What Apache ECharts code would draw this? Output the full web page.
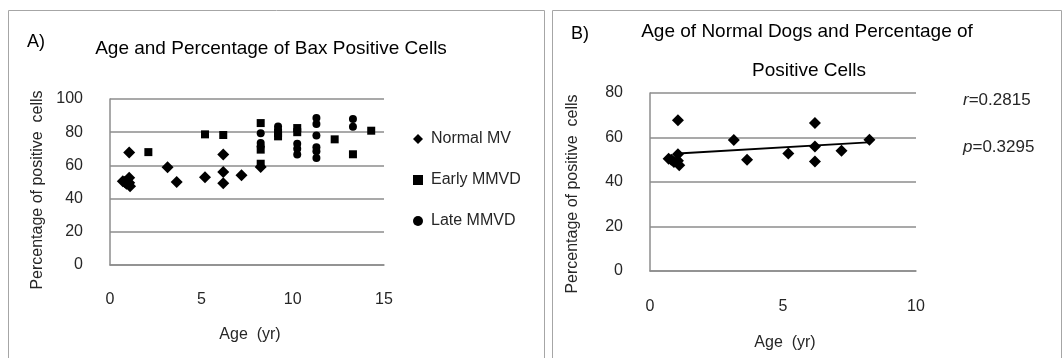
<!DOCTYPE html>
<html>
<head>
<meta charset="utf-8">
<script src="https://cdn.jsdelivr.net/npm/echarts@6/dist/echarts.min.js"></script>
<style>html,body{margin:0;padding:0;background:#fff;}#c{width:1063px;height:358px;}</style>
</head>
<body>
<div id="c"></div>
<script>
// ---- Data ----
var normalAge = [0.7, 0.8, 0.9, 1.05, 1.05, 1.1, 1.05, 3.15, 3.65, 5.2, 6.2, 6.2, 6.2, 7.2, 8.25];
var normalPct = [50.5, 50, 49, 52.5, 49.5, 47.5, 67.8, 58.9, 50, 52.8, 66.5, 56, 49.2, 54.1, 59];

var earlyAge = [2.1, 5.2, 6.2, 8.25, 8.25, 8.25, 9.2, 9.2, 10.25, 10.25, 12.3, 13.3, 14.3];
var earlyPct = [68, 78.7, 78.3, 85.5, 69.5, 61, 79.5, 77.5, 82.5, 80, 75.7, 66.7, 80.9];

var lateAge = [8.25, 8.25, 8.25, 9.2, 9.2, 10.25, 10.25, 10.25, 11.3, 11.3, 11.3, 11.3, 11.3, 11.3, 13.3, 13.3];
var latePct = [79.3, 73.5, 71.5, 83.5, 81.5, 73, 70, 66.5, 88.5, 85, 78, 71, 68.5, 64.5, 88, 83.3];

var trendAge = [1.05, 8.2];
var trendPct = [52.8, 57.8];

var xTicksA = [0, 5, 10, 15];
var yTicksA = [0, 20, 40, 60, 80, 100];
var xTicksB = [0, 5, 10];
var yTicksB = [0, 20, 40, 60, 80];

function pairs(a, b) { return a.map(function (v, i) { return [v, b[i]]; }); }

var FONT = 'Liberation Sans, Arial, sans-serif';
var GRID = '#8c8c8c';
var TXT = '#262626';
var MARK = { color: '#000', opacity: 1 };

var chart = echarts.init(document.getElementById('c'));
chart.setOption({
  animation: false,
  backgroundColor: '#fff',
  textStyle: { fontFamily: FONT },
  grid: [
    { left: 110, top: 99, width: 274, height: 166 },
    { left: 650, top: 93, width: 266, height: 178 }
  ],
  xAxis: [
    { gridIndex: 0, type: 'value', min: xTicksA[0], max: xTicksA[xTicksA.length - 1], interval: 5,
      axisLine: { show: true, lineStyle: { color: GRID, width: 1.5 } }, axisTick: { show: false },
      splitLine: { show: false },
      axisLabel: { margin: 27, fontSize: 16, color: TXT, fontFamily: FONT } },
    { gridIndex: 1, type: 'value', min: xTicksB[0], max: xTicksB[xTicksB.length - 1], interval: 5,
      axisLine: { show: true, lineStyle: { color: GRID, width: 1.5 } }, axisTick: { show: false },
      splitLine: { show: false },
      axisLabel: { margin: 28, fontSize: 16, color: TXT, fontFamily: FONT } }
  ],
  yAxis: [
    { gridIndex: 0, type: 'value', min: yTicksA[0], max: yTicksA[yTicksA.length - 1], interval: 20,
      axisLine: { show: true, lineStyle: { color: GRID, width: 1.5 } }, axisTick: { show: false },
      splitLine: { show: true, lineStyle: { color: GRID, width: 1.5 } },
      axisLabel: { margin: 27, fontSize: 16, color: TXT, fontFamily: FONT } },
    { gridIndex: 1, type: 'value', min: yTicksB[0], max: yTicksB[yTicksB.length - 1], interval: 20,
      axisLine: { show: true, lineStyle: { color: GRID, width: 1.5 } }, axisTick: { show: false },
      splitLine: { show: true, lineStyle: { color: GRID, width: 1.5 } },
      axisLabel: { margin: 27, fontSize: 16, color: TXT, fontFamily: FONT } }
  ],
  legend: {
    orient: 'vertical', left: 408, top: 126, itemGap: 25, itemWidth: 10, itemHeight: 10,
    data: ['Normal MV', 'Early MMVD', 'Late MMVD'],
    textStyle: { fontSize: 16, color: TXT, fontFamily: FONT, padding: [0, 0, 0, 3] }
  },
  series: [
    { name: 'Normal MV', type: 'scatter', xAxisIndex: 0, yAxisIndex: 0, symbol: 'diamond', symbolSize: 12,
      itemStyle: MARK, data: pairs(normalAge, normalPct) },
    { name: 'Early MMVD', type: 'scatter', xAxisIndex: 0, yAxisIndex: 0, symbol: 'rect', symbolSize: 8,
      itemStyle: MARK, data: pairs(earlyAge, earlyPct) },
    { name: 'Late MMVD', type: 'scatter', xAxisIndex: 0, yAxisIndex: 0, symbol: 'circle', symbolSize: 8,
      itemStyle: MARK, data: pairs(lateAge, latePct) },
    { name: 'Normal dogs', type: 'scatter', xAxisIndex: 1, yAxisIndex: 1, symbol: 'diamond', symbolSize: 12,
      itemStyle: MARK, data: pairs(normalAge, normalPct) },
    { name: 'Trend', type: 'line', xAxisIndex: 1, yAxisIndex: 1, showSymbol: false, symbol: 'none',
      lineStyle: { color: '#000', width: 1.8 }, data: pairs(trendAge, trendPct), z: 1 }
  ],
  graphic: [
    { type: 'rect', shape: { x: 8.5, y: 10.5, width: 536, height: 400 }, silent: true,
      style: { fill: 'none', stroke: '#a6a6a6', lineWidth: 1 } },
    { type: 'rect', shape: { x: 552.5, y: 10.5, width: 509, height: 400 }, silent: true,
      style: { fill: 'none', stroke: '#a6a6a6', lineWidth: 1 } },
    { type: 'text', x: 27, y: 42, style: { text: 'A)', font: '18px ' + FONT, fill: '#000', verticalAlign: 'middle' } },
    { type: 'text', x: 271, y: 49, style: { text: 'Age and Percentage of Bax Positive Cells', font: '19px ' + FONT, fill: '#000', align: 'center', verticalAlign: 'middle' } },
    { type: 'text', x: 38, y: 190, rotation: Math.PI / 2, style: { text: 'Percentage of positive  cells', font: '16px ' + FONT, fill: TXT, align: 'center', verticalAlign: 'middle' } },
    { type: 'text', x: 250, y: 335, style: { text: 'Age  (yr)', font: '16px ' + FONT, fill: TXT, align: 'center', verticalAlign: 'middle' } },
    { type: 'text', x: 571, y: 34, style: { text: 'B)', font: '18px ' + FONT, fill: '#000', verticalAlign: 'middle' } },
    { type: 'text', x: 807, y: 32, style: { text: 'Age of Normal Dogs and Percentage of', font: '19px ' + FONT, fill: '#000', align: 'center', verticalAlign: 'middle' } },
    { type: 'text', x: 809, y: 71, style: { text: 'Positive Cells', font: '19px ' + FONT, fill: '#000', align: 'center', verticalAlign: 'middle' } },
    { type: 'text', x: 573, y: 194, rotation: Math.PI / 2, style: { text: 'Percentage of positive  cells', font: '16px ' + FONT, fill: TXT, align: 'center', verticalAlign: 'middle' } },
    { type: 'text', x: 785, y: 343, style: { text: 'Age  (yr)', font: '16px ' + FONT, fill: TXT, align: 'center', verticalAlign: 'middle' } },
    { type: 'text', x: 963, y: 100, style: { rich: { i: { fontStyle: 'italic', fontSize: 17, fontFamily: FONT, fill: TXT }, n: { fontSize: 17, fontFamily: FONT, fill: TXT } }, text: '{i|r}{n|=0.2815}', verticalAlign: 'middle' } },
    { type: 'text', x: 963, y: 147, style: { rich: { i: { fontStyle: 'italic', fontSize: 17, fontFamily: FONT, fill: TXT }, n: { fontSize: 17, fontFamily: FONT, fill: TXT } }, text: '{i|p}{n|=0.3295}', verticalAlign: 'middle' } }
  ]
});
</script>
</body>
</html>
